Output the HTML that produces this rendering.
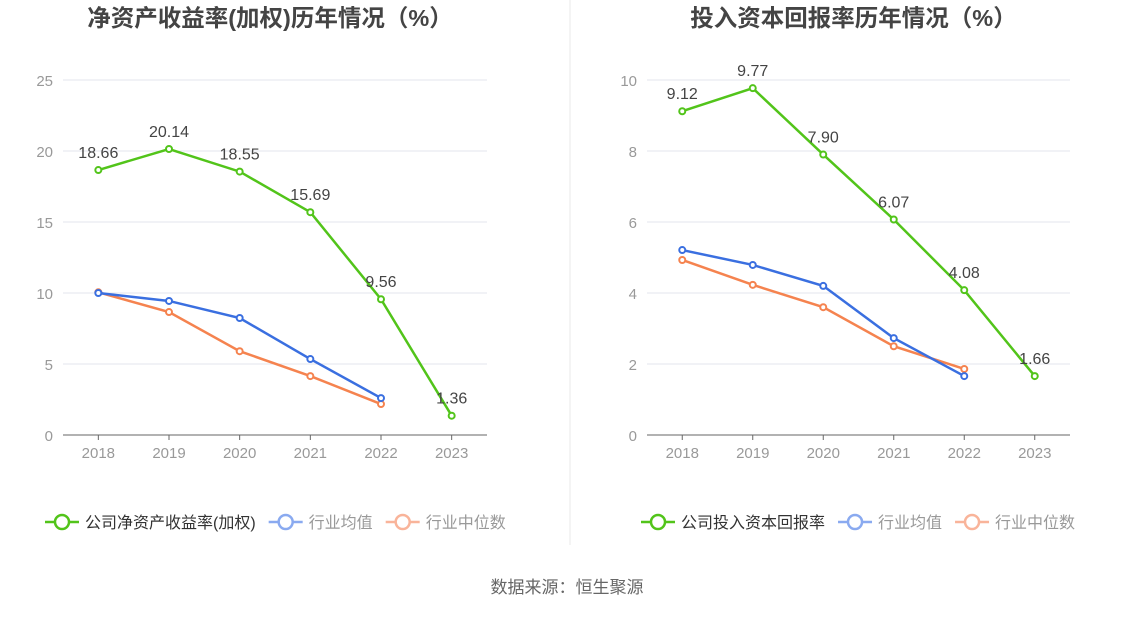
<!DOCTYPE html>
<html><head><meta charset="utf-8"><style>
body{margin:0;background:#fff;font-family:"Liberation Sans","Noto Sans CJK SC",sans-serif;}
svg text{font-family:"Liberation Sans","Noto Sans CJK SC",sans-serif;}
</style></head><body>
<svg id="c" width="1134" height="612" xmlns="http://www.w3.org/2000/svg">
<line x1="570" y1="0" x2="570" y2="545" stroke="#e8e8e8"/>
<text x="567" y="593" text-anchor="middle" font-size="17" fill="#666">数据来源：恒生聚源</text>
</svg>
<script>
const years=["2018","2019","2020","2021","2022","2023"];
const roeCompany=[18.66,20.14,18.55,15.69,9.56,1.36];
const roeAvg=[10.0,9.44,8.24,5.35,2.6];
const roeMed=[10.05,8.66,5.9,4.15,2.18];
const roeTicks=[0,5,10,15,20,25];
const roicCompany=[9.12,9.77,7.90,6.07,4.08,1.66];
const roicAvg=[5.21,4.79,4.2,2.73,1.66];
const roicMed=[4.93,4.23,3.6,2.5,1.86];
const roicTicks=[0,2,4,6,8,10];
const svg=document.getElementById('c');
const NS='http://www.w3.org/2000/svg';
function mk(tag,attrs,parent){const e=document.createElementNS(NS,tag);for(const k in attrs)e.setAttribute(k,attrs[k]);(parent||svg).appendChild(e);return e;}
function panel(cfg){
  const g=mk('g',{});
  
  
  const x0=cfg.x0,x1=cfg.x1,yb=435,yt=80,max=cfg.ticks[cfg.ticks.length-1];
  const step=(x1-x0)/6;
  const X=i=>x0+step*(i+0.5);
  const Y=v=>yb-(v/max)*(yb-yt);
  const t=mk('text',{x:(x0+x1)/2-5,y:26,'text-anchor':'middle','font-size':23.5,'font-weight':'bold',fill:'#444'},g);
  t.textContent=cfg.title;
  
  
  cfg.ticks.forEach(v=>{
    if(v>0){const l=mk('line',{x1:x0,x2:x1,y1:Y(v),y2:Y(v),stroke:'#e3e6ee'},g);
    
    }
    const tt=mk('text',{x:x0-10,y:Y(v)+6,'text-anchor':'end','font-size':15,fill:'#999'},g);
    tt.textContent=v;
    
    
  });
  const ax=mk('line',{x1:x0,x2:x1,y1:yb,y2:yb,stroke:'#666'},g);
  
  
  years.forEach((y,i)=>{
    mk('line',{x1:X(i),x2:X(i),y1:yb,y2:yb+5,stroke:'#666'},g);
    const tt=mk('text',{x:X(i),y:458,'text-anchor':'middle','font-size':15,fill:'#999'},g);
    tt.textContent=y;
    
    
  });
  const series=[[cfg.med,'#f5834f','industry-median-line'],[cfg.avg,'#3a6fe0','industry-average-line'],[cfg.comp,'#52c41a','company-line']];
  series.forEach(([d,c,n])=>{
    const p=mk('polyline',{points:d.map((v,i)=>X(i)+','+Y(v)).join(' '),fill:'none',stroke:c,'stroke-width':2.5},g);
    
    
    d.forEach((v,i)=>{const m=mk('circle',{cx:X(i),cy:Y(v),r:3,fill:'#fff',stroke:c,'stroke-width':2},g);
      
      });
  });
  cfg.comp.forEach((v,i)=>{
    const tt=mk('text',{x:X(i),y:Y(v)-12,'text-anchor':'middle','font-size':16,fill:'#444'},g);
    tt.textContent=v.toFixed(2);
    
    
  });
  let lx=cfg.legX;
  [[cfg.compName,'#52c41a'],['行业均值','#8aaaf0'],['行业中位数','#f9b49a']].forEach(([nm,c],i)=>{
    const lg=mk('g',{},g);
    
    
    mk('line',{x1:lx,x2:lx+34,y1:522,y2:522,stroke:c,'stroke-width':2.5},lg);
    mk('circle',{cx:lx+17,cy:522,r:7,fill:'#fff',stroke:c,'stroke-width':2.5},lg);
    const tt=mk('text',{x:lx+40,y:528,'font-size':16,fill:i==0?'#333':'#999'},lg);
    tt.textContent=nm;
    lx+=40+tt.getComputedTextLength()+13;
  });
}
panel({name:'roe-chart',x0:63,x1:487,ticks:roeTicks,comp:roeCompany,avg:roeAvg,med:roeMed,title:'净资产收益率(加权)历年情况（%）',compName:'公司净资产收益率(加权)',legX:45});
panel({name:'roic-chart',x0:647,x1:1070,ticks:roicTicks,comp:roicCompany,avg:roicAvg,med:roicMed,title:'投入资本回报率历年情况（%）',compName:'公司投入资本回报率',legX:641});
</script>
</body></html>
